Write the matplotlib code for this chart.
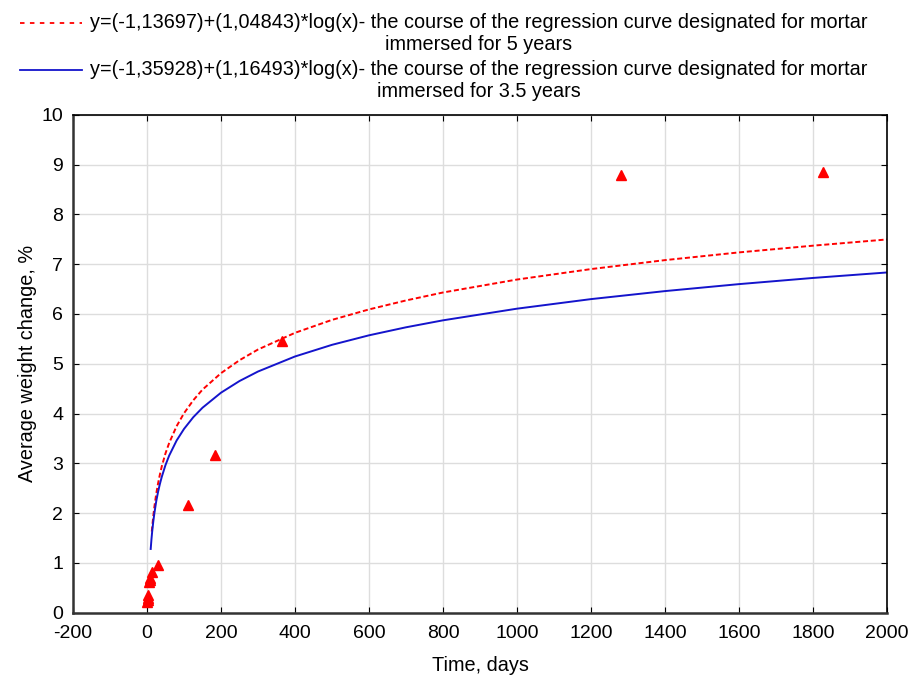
import matplotlib
matplotlib.use("Agg")
import matplotlib.pyplot as plt
from matplotlib.lines import Line2D

plt.rcParams['font.family'] = ['Liberation Sans', 'DejaVu Sans']
plt.rcParams['axes.unicode_minus'] = False

# measured points (mortar immersed for 5 years)
days = [1, 2, 3, 4, 6, 7, 8, 14, 30, 112, 185, 365, 1280, 1827]
weight = [0.22, 0.30, 0.25, 0.35, 0.62, 0.66, 0.70, 0.82, 0.96, 2.17, 3.16, 5.46, 8.79, 8.85]

# regression curves
red_x = [13, 14, 17, 20, 25, 30, 35, 40, 50, 60, 80, 100, 125, 150, 200, 250, 300,
         400, 500, 600, 700, 800, 1000, 1200, 1400, 1600, 1800, 2000]
red_y = [1.63, 1.715, 1.94, 2.13, 2.39, 2.60, 2.78, 2.94, 3.20, 3.41, 3.745, 4.005, 4.265,
         4.48, 4.81, 5.07, 5.285, 5.62, 5.88, 6.09, 6.27, 6.43, 6.69, 6.90, 7.08, 7.235, 7.37, 7.495]
blue_x = [10, 12, 14, 17, 20, 25, 30, 35, 40, 50, 60, 80, 100, 125, 150, 200, 250, 300,
          400, 500, 600, 700, 800, 1000, 1200, 1400, 1600, 1800, 2000]
blue_y = [1.28, 1.47, 1.63, 1.83, 2.00, 2.24, 2.43, 2.59, 2.73, 2.965, 3.156, 3.457, 3.69, 3.925,
          4.116, 4.418, 4.652, 4.843, 5.145, 5.379, 5.57, 5.731, 5.871, 6.105, 6.297, 6.458,
          6.598, 6.722, 6.832]

label_red = ("y=(-1,13697)+(1,04843)*log(x)- the course of the regression curve designated for mortar\n"
             "immersed for 5 years")
label_blue = ("y=(-1,35928)+(1,16493)*log(x)- the course of the regression curve designated for mortar\n"
              "immersed for 3.5 years")

RED = 'red'
BLUE = '#1414cc'

W, H = 911, 677
fig = plt.figure(figsize=(W / 100, H / 100), dpi=100)
ax = fig.add_axes([73 / W, 1 - 612.7 / H, 814 / W, 498 / H])

ax.plot(red_x, red_y, color=RED, ls=(0, (2.6, 1.4)), lw=1.4)
ax.plot(blue_x, blue_y, color=BLUE, lw=1.4)
ax.plot(days, weight, ls='none', marker='^', color=RED, markersize=7)

ax.set_xlim(-200, 2000)
ax.set_ylim(0, 10)
ax.set_xticks(range(-200, 2001, 200))
ax.set_yticks(range(0, 11))
ax.grid(True, color='#dddddd', lw=1)
ax.set_axisbelow(True)
ax.tick_params(direction='in', length=4, top=True, right=True, labelsize=14)
ax.tick_params(axis='x', pad=9)
ax.tick_params(axis='y', pad=7)
for s in ['left', 'bottom']:
    ax.spines[s].set_linewidth(1.8)
    ax.spines[s].set_color('#333333')
for s in ['top', 'right']:
    ax.spines[s].set_linewidth(1.2)

ax.set_xlabel('Time, days', fontsize=14.3, labelpad=10)
ax.set_ylabel('Average weight change, %', fontsize=14.3, labelpad=3)

# legend drawn by hand: handle sits on the first text line
def legend_entry(y_px, color, style, text):
    fig.add_artist(Line2D([20 / W, 82 / W], [1 - y_px / H, 1 - y_px / H],
                          transform=fig.transFigure, color=color, ls=style, lw=1.3))
    fig.text(90 / W, 1 - (y_px - 10) / H, text, ha='left', va='top',
             multialignment='center', fontsize=14.3, linespacing=1.22)

legend_entry(23, RED, (0, (2.5, 3)), label_red)
legend_entry(70, BLUE, '-', label_blue)

fig.savefig('out.png', dpi=100)
